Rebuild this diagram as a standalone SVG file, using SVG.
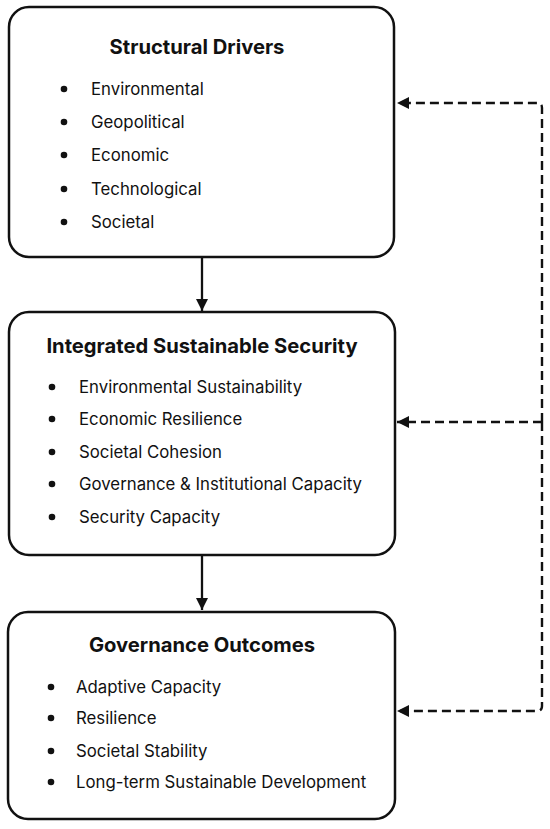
<svg xmlns="http://www.w3.org/2000/svg" width="550" height="829" viewBox="0 0 550 829">
<style>
.box{fill:#fff;stroke:#111;stroke-width:2.5}
.title{font-family:Inter,"Liberation Sans",sans-serif;font-weight:bold;font-size:20.2px;fill:#111;text-anchor:middle}
.item{font-family:Inter,"Liberation Sans",sans-serif;font-size:16.8px;fill:#111}
.dot{fill:#111}
.solid{stroke:#111;stroke-width:2.3;fill:none}
.dash{stroke:#111;stroke-width:2.4;fill:none;stroke-dasharray:9 5}
</style>
<defs>
<marker id="ah" viewBox="0 0 12 12" refX="12" refY="6" markerWidth="12" markerHeight="12" markerUnits="userSpaceOnUse" orient="auto">
<path d="M0,0 L12,6 L0,12 Z" fill="#111"/>
</marker>
</defs>
<rect width="550" height="829" fill="#fff"/>
<g id="connectors">
<line class="solid" x1="202" y1="258" x2="202" y2="311" marker-end="url(#ah)"/>
<line class="solid" x1="202" y1="556" x2="202" y2="610" marker-end="url(#ah)"/>
<path class="dash" d="M542,422 L542,108 Q542,103 537,103 L397,103" marker-end="url(#ah)"/>
<line class="dash" x1="542" y1="422" x2="397" y2="422" marker-end="url(#ah)"/>
<path class="dash" d="M542,422 L542,706 Q542,711 537,711 L397,711" marker-end="url(#ah)"/>
</g>
<g id="structural-drivers">
<rect class="box" x="9" y="7" width="385" height="250" rx="20"/>
<text class="title" x="197" y="54">Structural Drivers</text>
<circle class="dot" cx="64" cy="89" r="3.3"/><text class="item" x="91" y="95">Environmental</text>
<circle class="dot" cx="64" cy="122" r="3.3"/><text class="item" x="91" y="128">Geopolitical</text>
<circle class="dot" cx="64" cy="155" r="3.3"/><text class="item" x="91" y="161">Economic</text>
<circle class="dot" cx="64" cy="189" r="3.3"/><text class="item" x="91" y="195">Technological</text>
<circle class="dot" cx="64" cy="222" r="3.3"/><text class="item" x="91" y="228">Societal</text>
</g>
<g id="integrated-sustainable-security">
<rect class="box" x="9" y="312" width="386" height="243" rx="20"/>
<text class="title" x="202" y="353">Integrated Sustainable Security</text>
<circle class="dot" cx="52" cy="387" r="3.3"/><text class="item" x="79" y="393">Environmental Sustainability</text>
<circle class="dot" cx="52" cy="419" r="3.3"/><text class="item" x="79" y="425">Economic Resilience</text>
<circle class="dot" cx="52" cy="452" r="3.3"/><text class="item" x="79" y="458">Societal Cohesion</text>
<circle class="dot" cx="52" cy="484" r="3.3"/><text class="item" x="79" y="490">Governance &amp; Institutional Capacity</text>
<circle class="dot" cx="52" cy="517" r="3.3"/><text class="item" x="79" y="523">Security Capacity</text>
</g>
<g id="governance-outcomes">
<rect class="box" x="8" y="612" width="387" height="207" rx="20"/>
<text class="title" x="202" y="652">Governance Outcomes</text>
<circle class="dot" cx="51" cy="687" r="3.3"/><text class="item" x="76" y="693">Adaptive Capacity</text>
<circle class="dot" cx="51" cy="718" r="3.3"/><text class="item" x="76" y="724">Resilience</text>
<circle class="dot" cx="51" cy="751" r="3.3"/><text class="item" x="76" y="757">Societal Stability</text>
<circle class="dot" cx="51" cy="782" r="3.3"/><text class="item" x="76" y="788">Long-term Sustainable Development</text>
</g>
</svg>
